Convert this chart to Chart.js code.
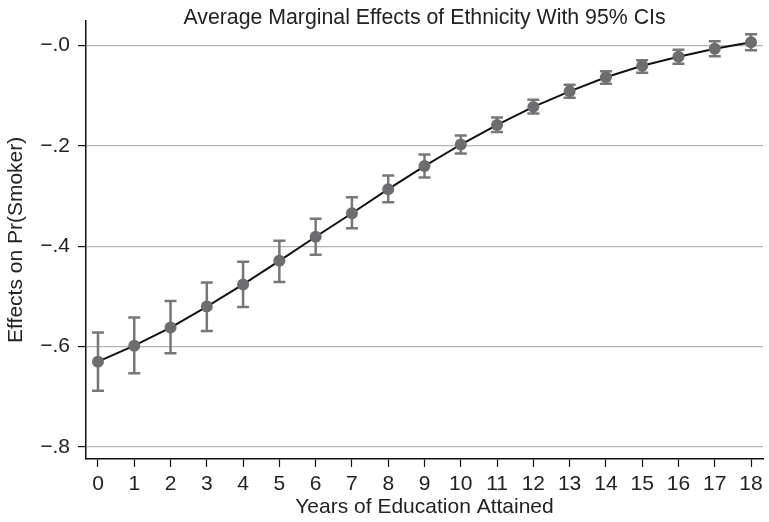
<!DOCTYPE html>
<html>
<head>
<meta charset="utf-8">
<script src="https://cdn.jsdelivr.net/npm/chart.js@4"></script>
<style>
  html, body { margin: 0; padding: 0; background: #fff; }
  #wrap { width: 769px; height: 522px; }
</style>
</head>
<body>
<div id="wrap"><canvas id="effects"></canvas></div>
<script>
// years of education on the x axis
const years = [0, 1, 2, 3, 4, 5, 6, 7, 8, 9, 10, 11, 12, 13, 14, 15, 16, 17, 18];
// average marginal effect and its 95% CI
const effect = [-0.630, -0.598, -0.562, -0.520, -0.476, -0.429, -0.381, -0.334, -0.286, -0.240,
                -0.197, -0.158, -0.122, -0.091, -0.063, -0.040, -0.022, -0.006, 0.007];
const ciLow  = [-0.688, -0.653, -0.613, -0.569, -0.521, -0.471, -0.417, -0.364, -0.312, -0.263,
                -0.215, -0.172, -0.135, -0.104, -0.076, -0.054, -0.036, -0.021, -0.009];
const ciHigh = [-0.572, -0.542, -0.509, -0.472, -0.431, -0.389, -0.345, -0.302, -0.259, -0.217,
                -0.179, -0.143, -0.108, -0.078, -0.051, -0.029, -0.008, 0.009, 0.023];
const yTicks = [-0.8, -0.6, -0.4, -0.2, 0];
const titleText = 'Average Marginal Effects of Ethnicity With 95% CIs';

const font = 'Liberation Sans, Arial, Helvetica, sans-serif';

// draw CI whiskers before the line and markers
const errorBars = {
  id: 'errorBars',
  beforeDatasetsDraw(chart) {
    const ctx = chart.ctx;
    const xs = chart.scales.x, ys = chart.scales.y;
    ctx.save();
    ctx.strokeStyle = '#777779';
    ctx.lineWidth = 2.5;
    years.forEach((yr, i) => {
      const px = xs.getPixelForValue(yr);
      const lo = ys.getPixelForValue(ciLow[i]);
      const hi = ys.getPixelForValue(ciHigh[i]);
      ctx.beginPath();
      ctx.moveTo(px, lo); ctx.lineTo(px, hi);
      ctx.moveTo(px - 6, lo); ctx.lineTo(px + 6, lo);
      ctx.moveTo(px - 6, hi); ctx.lineTo(px + 6, hi);
      ctx.stroke();
    });
    ctx.restore();
  }
};

// title centred over the plot region, like Stata does
const plotTitle = {
  id: 'plotTitle',
  afterDraw(chart) {
    const ctx = chart.ctx;
    const a = chart.chartArea;
    ctx.save();
    ctx.fillStyle = '#222';
    ctx.font = '21.3px ' + font;
    ctx.textAlign = 'center';
    ctx.textBaseline = 'middle';
    ctx.fillText(titleText, (a.left + a.right) / 2, 18);
    ctx.restore();
  }
};

new Chart(document.getElementById('effects').getContext('2d'), {
  type: 'line',
  data: {
    datasets: [{
      data: years.map((yr, i) => ({ x: yr, y: effect[i] })),
      borderColor: '#111',
      borderWidth: 2,
      tension: 0,
      pointRadius: 6,
      pointBackgroundColor: '#6d6d6f',
      pointBorderWidth: 0
    }]
  },
  options: {
    responsive: true,
    maintainAspectRatio: false,
    animation: false,
    layout: { padding: { left: 0, right: 1, top: 20, bottom: 0 } },
    plugins: {
      legend: { display: false },
      tooltip: { enabled: false },
      title: { display: false }
    },
    scales: {
      x: {
        type: 'linear',
        min: -0.33,
        max: 18.33,
        afterBuildTicks: s => { s.ticks = years.map(v => ({ value: v })); },
        afterFit: s => { s.height = 63; },
        grid: { display: true, drawOnChartArea: false, drawTicks: true, tickLength: 8, tickColor: '#111', tickWidth: 1.2 },
        border: { display: true, color: '#111', width: 1.5 },
        ticks: { color: '#222', padding: 5, font: { family: font, size: 21 }, maxRotation: 0, autoSkip: false },
        title: {
          display: true,
          text: 'Years of Education Attained',
          color: '#222',
          font: { family: font, size: 21, lineHeight: 1 },
          padding: { top: 0, bottom: 4.5 }
        }
      },
      y: {
        min: -0.824,
        max: 0.05,
        afterBuildTicks: s => { s.ticks = yTicks.map(v => ({ value: v })); },
        afterFit: s => { s.width = 86; },
        grid: { color: '#b4b4b4', lineWidth: 1.2, drawTicks: true, tickLength: 8, tickColor: '#111' },
        border: { display: true, color: '#111', width: 1.5 },
        ticks: {
          color: '#222',
          padding: 8,
          font: { family: font, size: 21 },
          callback: v => '\u2212.' + Math.round(Math.abs(v) * 10)
        },
        title: {
          display: true,
          text: 'Effects on Pr(Smoker)',
          color: '#222',
          font: { family: font, size: 21, lineHeight: 1 },
          padding: { top: 5.5, bottom: 0 }
        }
      }
    }
  },
  plugins: [errorBars, plotTitle]
});
</script>
</body>
</html>
